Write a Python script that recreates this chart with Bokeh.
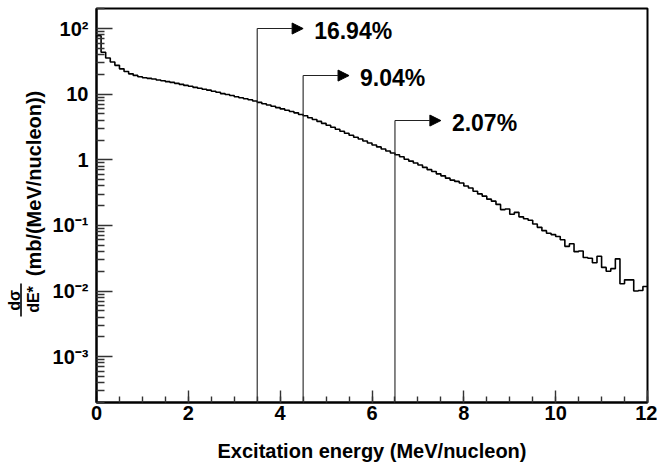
import math
from bokeh.plotting import figure
from bokeh.layouts import row, column
from bokeh.models import Range1d, FixedTicker, Arrow, NormalHead
from bokeh.core.properties import value
from bokeh.embed import file_html
from bokeh.resources import INLINE

# ---------------- data ----------------
bin_width = 0.1  # MeV/nucleon
counts = [
    77.6, 43.6, 35.5, 30.9, 27.5, 24.3, 22.1, 20.4, 19.3, 18.4,
    17.8, 17.4, 17.0, 16.4, 16.0, 15.5, 15.1, 14.6, 14.1, 13.6,
    13.2, 12.7, 12.3, 11.9, 11.5, 11.1, 10.7, 10.2, 9.89, 9.55,
    9.12, 8.81, 8.51, 8.22, 7.85, 7.50, 7.16, 6.84, 6.53, 6.24,
    5.96, 5.69, 5.43, 5.19, 4.90, 4.68, 4.37, 4.12, 3.85, 3.59,
    3.35, 3.13, 2.92, 2.72, 2.54, 2.37, 2.21, 2.07, 1.93, 1.80,
    1.68, 1.57, 1.46, 1.36, 1.27, 1.19, 1.11, 1.02, 0.955, 0.891,
    0.832, 0.767, 0.708, 0.661, 0.610, 0.569, 0.525, 0.490, 0.468, 0.442,
    0.398, 0.372, 0.331, 0.302, 0.279, 0.251, 0.234, 0.209, 0.174, 0.178,
    0.148, 0.158, 0.135, 0.126, 0.120, 0.105, 0.0933, 0.0832, 0.0759, 0.0724,
    0.0676, 0.0603, 0.0479, 0.0525, 0.0398, 0.0407, 0.0324, 0.0316, 0.0269, 0.0339,
    0.0229, 0.0200, 0.0219, 0.0309, 0.0129, 0.0148, 0.0148, 0.0100, 0.0102, 0.0117,
]
cut_energy = [3.5, 4.5, 6.5]
cut_level = [100.0, 19.2, 3.96]
cut_label = ["16.94%", "9.04%", "2.07%"]

x_ticks = [0, 2, 4, 6, 8, 10, 12]
y_ticks = [1e-3, 1e-2, 1e-1, 1, 10, 100]
y_tick_labels = ["10\u207b\u00b3", "10\u207b\u00b2", "10\u207b\u00b9", "1", "10", "10\u00b2"]

x_title = "Excitation energy (MeV/nucleon)"
y_title_num = "d\u03c3"
y_title_den = "dE*"
y_title_unit = "(mb/(MeV/nucleon))"

FONT = "Liberation Sans"
XMIN, XMAX = 0, 12
YMIN, YMAX = 2.0e-4, 202
W, H = 657, 462
LEFT_W = 47
TITLE_H = 24
TOP = 8
FRAME_BOTTOM = 402
PLOT_H = H - TITLE_H
BOTTOM = PLOT_H - FRAME_BOTTOM


def bare(fig):
    fig.outline_line_color = None
    fig.xgrid.visible = False
    fig.ygrid.visible = False
    fig.border_fill_color = "white"
    fig.background_fill_color = "white"


# ---------------- left panel holding the y title (pixel coordinates, y up) ----------------
t = figure(width=LEFT_W, height=PLOT_H, x_range=Range1d(0, LEFT_W),
           y_range=Range1d(H - FRAME_BOTTOM, H - TOP),
           output_backend="svg", toolbar_location=None, x_axis_location=None, y_axis_location=None,
           min_border_left=0, min_border_right=0, min_border_top=TOP, min_border_bottom=BOTTOM)
bare(t)
t.text(x=[14, 32.5], y=[162, 163], text=[y_title_num, y_title_den], angle=math.pi / 2,
       text_font=value(FONT), text_font_style="bold", text_font_size="16px",
       text_align="center", text_baseline="middle", text_color="black")
t.segment(x0=[20.5], y0=[146], x1=[20.5], y1=[179], line_color="black", line_width=1.6)
t.text(x=[33.5], y=[279], text=[y_title_unit], angle=math.pi / 2,
       text_font=value(FONT), text_font_style="bold", text_font_size="20px",
       text_align="center", text_baseline="middle", text_color="black")

# ---------------- main plot ----------------
p = figure(width=W - LEFT_W, height=PLOT_H, x_range=Range1d(XMIN, XMAX), y_range=Range1d(YMIN, YMAX),
           y_axis_type="log", output_backend="svg", toolbar_location=None,
           min_border_left=96 - LEFT_W, min_border_right=10, min_border_top=TOP, min_border_bottom=BOTTOM)
p.xgrid.visible = False
p.ygrid.visible = False
p.outline_line_color = "black"
p.outline_line_width = 2
p.background_fill_color = "white"
p.border_fill_color = "white"

# histogram
edges = [i * bin_width for i in range(len(counts) + 1)]
p.step(x=edges, y=counts + [counts[-1]], mode="after", line_color="black", line_width=1.6)

# cut arrows
for e, lv in zip(cut_energy, cut_level):
    p.segment(x0=[e], y0=[YMIN], x1=[e], y1=[lv], line_color="#222222", line_width=1.1)
    p.add_layout(Arrow(x_start=e, y_start=lv, x_end=e + 1.0, y_end=lv,
                       line_color="#222222", line_width=1.1,
                       end=NormalHead(size=11, fill_color="black", line_color="black")))
p.text(x=[e + 1.0 for e in cut_energy], y=cut_level, text=cut_label,
       x_offset=11, y_offset=2, text_font=value(FONT), text_font_style="bold",
       text_font_size="23px", text_baseline="middle", text_align="left", text_color="black")

# axes
for ax in (p.xaxis[0], p.yaxis[0]):
    ax.axis_line_width = 2
    ax.axis_line_color = "black"
    ax.major_tick_out = 0
    ax.minor_tick_out = 0
    ax.major_tick_line_color = "#333333"
    ax.minor_tick_line_color = "#333333"
    ax.major_tick_line_width = 1.4
    ax.minor_tick_line_width = 1.4
    ax.major_label_text_font = FONT
    ax.major_label_text_font_style = "bold"
    ax.major_label_text_font_size = "20px"
    ax.major_label_text_color = "black"
    ax.axis_label = None

p.xaxis.ticker = FixedTicker(ticks=x_ticks, minor_ticks=[i * 0.5 for i in range(25)])
p.xaxis.major_tick_in = 12
p.xaxis.minor_tick_in = 6
p.xaxis.major_label_standoff = 3

y_minor = [m * 10.0 ** k for k in range(-4, 3) for m in range(2, 10)]
p.yaxis.ticker = FixedTicker(ticks=y_ticks, minor_ticks=y_minor)
p.yaxis.major_label_overrides = {tk: s for tk, s in zip(y_ticks, y_tick_labels)}
p.yaxis.major_tick_in = 16
p.yaxis.minor_tick_in = 8
p.yaxis.major_label_standoff = 8

# ---------------- bottom strip holding the x title ----------------
b = figure(width=W, height=TITLE_H, x_range=Range1d(0, 1), y_range=Range1d(0, 1),
           output_backend="svg", toolbar_location=None, x_axis_location=None, y_axis_location=None,
           min_border_left=96, min_border_right=10, min_border_top=0, min_border_bottom=0)
bare(b)
b.text(x=[0.5], y=[0.5], text=[x_title], text_font=value(FONT), text_font_style="bold",
       text_font_size="20px", text_align="center", text_baseline="middle", text_color="black")

open("out.html", "w").write(file_html(column(row(t, p), b), INLINE))
